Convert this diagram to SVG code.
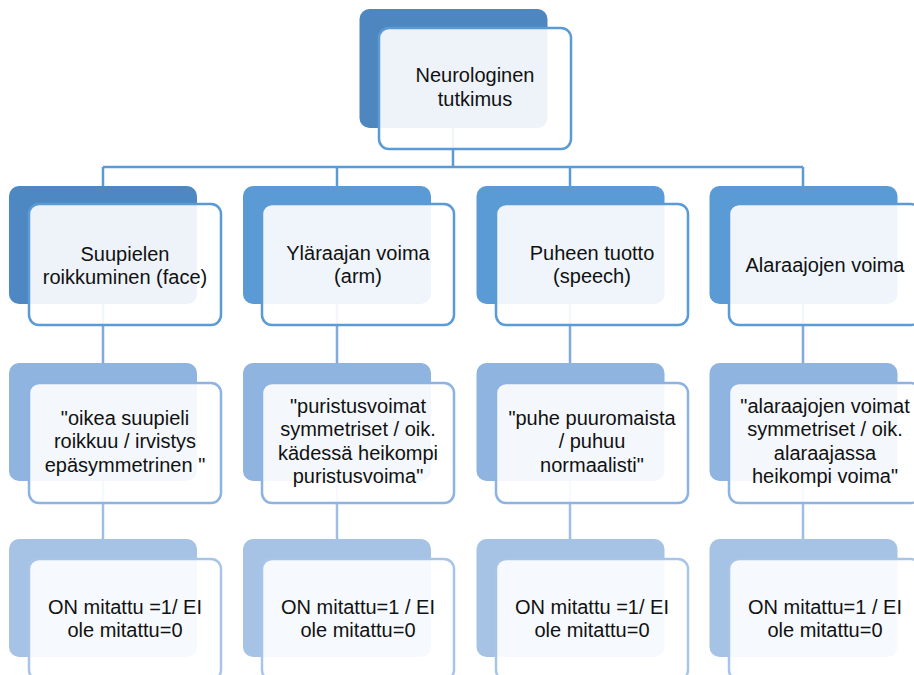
<svg xmlns="http://www.w3.org/2000/svg" width="914" height="675" viewBox="0 0 914 675">
<style>
  .back0{fill:#4E86C0}
  .back1d{fill:#4E88C2}
  .back1{fill:#5B9BD5}
  .back2{fill:#8FB4E0}
  .back3{fill:#A6C3E6}
  .front{fill:#ffffff;fill-opacity:0.9;stroke-width:2.5}
  .f1{stroke:#5B9BD5}
  .f2{stroke:#8DB3E2}
  .f3{stroke:#A8C5E8}
  .c1{stroke:#5B9BD5;stroke-width:2.5;fill:none}
  .c2{stroke:#82ABDC;stroke-width:2.5;fill:none}
  .c3{stroke:#9EBEE4;stroke-width:2.5;fill:none}
  text{font-family:"Liberation Sans",Arial,sans-serif;font-size:20px;fill:#111;text-anchor:middle}
</style>
<rect width="914" height="675" fill="#ffffff"/>
<g id="connectors">
  <path class="c1" d="M453 128V167M103 167H803M103 167V186M337 167V186M570 167V186M803 167V186"/>
  <path class="c2" d="M103 304V363M337 304V363M570 304V363M803 304V363"/>
  <path class="c3" d="M103 481V539M337 481V539M570 481V539M803 481V539"/>
</g>
<g id="n0">
  <rect class="back0" x="359.5" y="9" width="188" height="119" rx="10"/>
  <rect class="front f1" x="379" y="28" width="192" height="121" rx="10"/>
  <text x="475" y="82">Neurologinen</text>
  <text x="475" y="106">tutkimus</text>
</g>
<g id="n1a">
  <rect class="back1d" x="9" y="186" width="188" height="118" rx="10"/>
  <rect class="front f1" x="29" y="204" width="192" height="121" rx="10"/>
  <text x="125" y="261">Suupielen</text>
  <text x="125" y="284">roikkuminen (face)</text>
</g>
<g id="n1b">
  <rect class="back1" x="243" y="186" width="188" height="118" rx="10"/>
  <rect class="front f1" x="262" y="204" width="192" height="121" rx="10"/>
  <text x="358" y="260">Yläraajan voima</text>
  <text x="358" y="283">(arm)</text>
</g>
<g id="n1c">
  <rect class="back1" x="476.5" y="186" width="188" height="118" rx="10"/>
  <rect class="front f1" x="496" y="204" width="192" height="121" rx="10"/>
  <text x="592" y="260">Puheen tuotto</text>
  <text x="592" y="283">(speech)</text>
</g>
<g id="n1d">
  <rect class="back1" x="709.5" y="186" width="188" height="118" rx="10"/>
  <rect class="front f1" x="729" y="204" width="192" height="121" rx="10"/>
  <text x="825" y="272">Alaraajojen voima</text>
</g>
<g id="n2a">
  <rect class="back2" x="9" y="363" width="188" height="118" rx="10"/>
  <rect class="front f2" x="29" y="383" width="192" height="120" rx="10"/>
  <text x="125" y="425">"oikea suupieli</text>
  <text x="125" y="448">roikkuu / irvistys</text>
  <text x="125" y="472">epäsymmetrinen "</text>
</g>
<g id="n2b">
  <rect class="back2" x="243" y="363" width="188" height="118" rx="10"/>
  <rect class="front f2" x="262" y="383" width="192" height="120" rx="10"/>
  <text x="358" y="413">"puristusvoimat</text>
  <text x="358" y="436">symmetriset / oik.</text>
  <text x="358" y="460">kädessä heikompi</text>
  <text x="358" y="483">puristusvoima"</text>
</g>
<g id="n2c">
  <rect class="back2" x="476.5" y="363" width="188" height="118" rx="10"/>
  <rect class="front f2" x="496" y="383" width="192" height="120" rx="10"/>
  <text x="592" y="425">"puhe puuromaista</text>
  <text x="592" y="448">/ puhuu</text>
  <text x="592" y="472">normaalisti"</text>
</g>
<g id="n2d">
  <rect class="back2" x="709.5" y="363" width="188" height="118" rx="10"/>
  <rect class="front f2" x="729" y="383" width="192" height="120" rx="10"/>
  <text x="825" y="413">"alaraajojen voimat</text>
  <text x="825" y="436">symmetriset / oik.</text>
  <text x="825" y="460">alaraajassa</text>
  <text x="825" y="483">heikompi voima"</text>
</g>
<g id="n3a">
  <rect class="back3" x="9" y="539" width="188" height="118" rx="10"/>
  <rect class="front f3" x="29" y="559" width="192" height="121" rx="10"/>
  <text x="125" y="614">ON mitattu =1/ EI</text>
  <text x="125" y="637">ole mitattu=0</text>
</g>
<g id="n3b">
  <rect class="back3" x="243" y="539" width="188" height="118" rx="10"/>
  <rect class="front f3" x="262" y="559" width="192" height="121" rx="10"/>
  <text x="358" y="614">ON mitattu=1 / EI</text>
  <text x="358" y="637">ole mitattu=0</text>
</g>
<g id="n3c">
  <rect class="back3" x="476.5" y="539" width="188" height="118" rx="10"/>
  <rect class="front f3" x="496" y="559" width="192" height="121" rx="10"/>
  <text x="592" y="614">ON mitattu =1/ EI</text>
  <text x="592" y="637">ole mitattu=0</text>
</g>
<g id="n3d">
  <rect class="back3" x="709.5" y="539" width="188" height="118" rx="10"/>
  <rect class="front f3" x="729" y="559" width="192" height="121" rx="10"/>
  <text x="825" y="614">ON mitattu=1 / EI</text>
  <text x="825" y="637">ole mitattu=0</text>
</g>
</svg>
